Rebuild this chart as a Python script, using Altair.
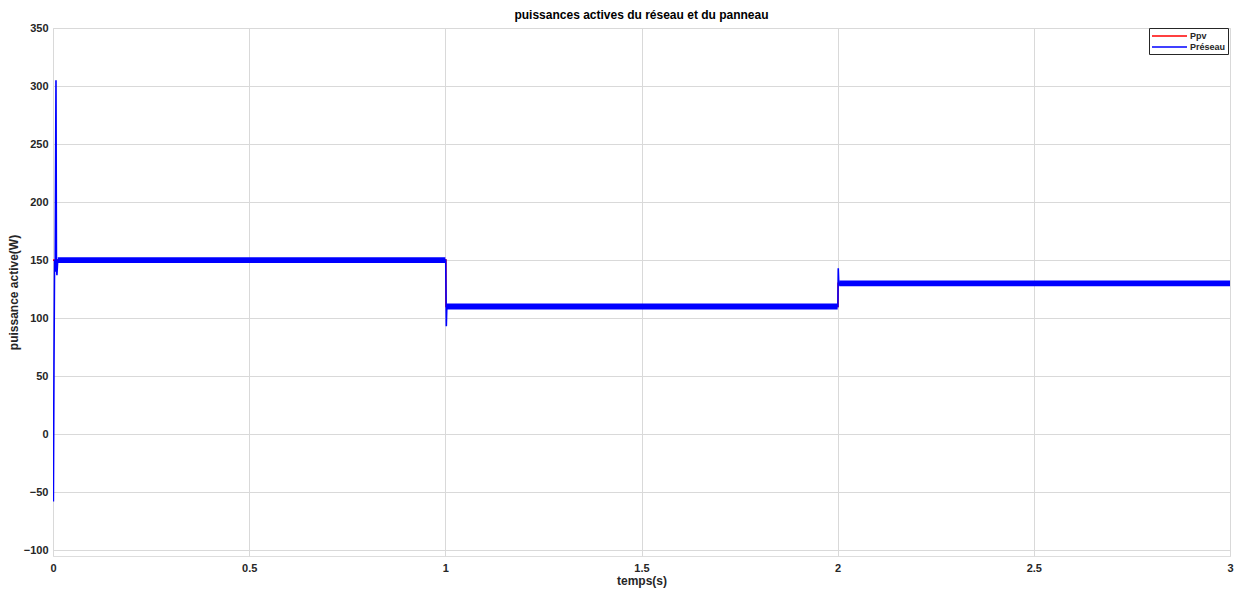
import altair as alt
import pandas as pd

# --- data ---
# Préseau (blue) trace: key points of the mean signal incl. transients
t_pres = [0.0, 0.001, 0.0025, 0.004, 0.0055, 0.0076, 0.0088, 0.010, 0.012,
          1.0, 1.001, 1.0025, 1.004, 1.006,
          2.0, 2.0005, 2.0015, 2.003, 2.005, 3.0]
p_pres = [0, -58, 60, 150, 140, 305, 145, 137, 150,
          150, 150, 93, 112, 110,
          110, 110, 143, 128, 130, 130]

# Ppv (red) trace: step reference (mostly hidden under the blue one)
t_ppv = [0.0, 1.0015, 1.0015, 2.001, 2.001, 3.0]
p_ppv = [150, 150, 110, 110, 130, 130]

# ripple band of the steady-state segments (Préseau)
band_t0 = [0.012, 1.004, 2.004]
band_t1 = [1.0, 2.0, 3.0]
band_lo = [147.5, 107.5, 127.5]
band_hi = [152.5, 112.5, 132.5]

series_names = ["Ppv", "Préseau"]
series_colors = ["#ff0000", "#0000ff"]

x_ticks = [0, 0.5, 1, 1.5, 2, 2.5, 3]
y_ticks = [-100, -50, 0, 50, 100, 150, 200, 250, 300, 350]

lines = pd.concat([
    pd.DataFrame({"t": t_ppv, "p": p_ppv, "serie": "Ppv", "order": 0}),
    pd.DataFrame({"t": t_pres, "p": p_pres, "serie": "Préseau", "order": 1}),
])
band = pd.DataFrame({"t0": band_t0, "t1": band_t1, "lo": band_lo, "hi": band_hi})

FONT = "Liberation Sans"
TXT = "#262626"
GRID = "#d9d9d9"

xscale = alt.Scale(domain=[0, 3], nice=False, zero=False)
yscale = alt.Scale(domain=[-105, 350], nice=False, zero=False)

xaxis = alt.Axis(values=x_ticks, title="temps(s)", format="~g",
                 labelFont=FONT, labelFontSize=11, labelFontWeight="bold",
                 labelColor=TXT, titleFont=FONT, titleFontSize=12,
                 titleFontWeight="bold", titleColor=TXT, grid=True,
                 gridColor=GRID, ticks=False, labelPadding=6,
                 titlePadding=2, domain=False, labelFlush=False)
yaxis = alt.Axis(values=y_ticks, title="puissance active(W)",
                 labelFont=FONT, labelFontSize=11, labelFontWeight="bold",
                 labelColor=TXT, titleFont=FONT, titleFontSize=12,
                 titleFontWeight="bold", titleColor=TXT, grid=True,
                 gridColor=GRID, ticks=False, labelPadding=5,
                 titlePadding=3, domain=False)

base_line = alt.Chart(lines).mark_line(strokeWidth=1.6, clip=True).encode(
    x=alt.X("t:Q", scale=xscale, axis=xaxis),
    y=alt.Y("p:Q", scale=yscale, axis=yaxis),
    color=alt.Color("serie:N",
                    scale=alt.Scale(domain=series_names, range=series_colors),
                    legend=alt.Legend(title=None, orient="none", legendX=1096,
                                      legendY=0, fillColor="white",
                                      strokeColor=TXT, padding=2,
                                      symbolType="M-1,0H6", symbolSize=100,
                                      symbolStrokeWidth=1.5,
                                      labelFont=FONT, labelFontSize=9,
                                      labelFontWeight="bold", labelColor=TXT,
                                      rowPadding=-1, labelOffset=27)),
    detail="serie:N",
    order="order:Q",
)

band_layer = alt.Chart(band).mark_rect(color="#0000ff", clip=True).encode(
    x=alt.X("t0:Q", scale=xscale),
    x2="t1:Q",
    y=alt.Y("lo:Q", scale=yscale),
    y2="hi:Q",
)

chart = alt.layer(base_line, band_layer).properties(
    width=1177, height=528,
    title=alt.TitleParams("puissances actives du réseau et du panneau",
                          font=FONT, fontSize=12, fontWeight="bold",
                          color="black", offset=0),
    autosize=alt.AutoSizeParams(type="none"),
    padding={"left": 45, "top": 20, "right": 4, "bottom": 34},
).configure_view(stroke=TXT, strokeWidth=1).configure(background="white")

chart.save("out.html", embed_options={"renderer": "svg", "actions": False})
